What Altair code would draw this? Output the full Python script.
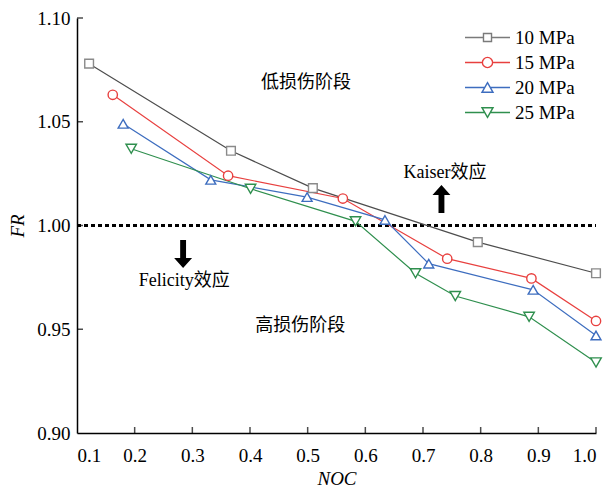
import altair as alt
import pandas as pd
import numpy as np

# ---- data ----
series_names = ["10 MPa", "15 MPa", "20 MPa", "25 MPa"]
x10 = [0.121, 0.367, 0.509, 0.795, 1.0]
y10 = [1.078, 1.036, 1.018, 0.992, 0.977]
x15 = [0.162, 0.362, 0.561, 0.742, 0.888, 1.0]
y15 = [1.063, 1.024, 1.013, 0.984, 0.9745, 0.954]
x20 = [0.180, 0.332, 0.499, 0.634, 0.710, 0.891, 1.0]
y20 = [1.049, 1.022, 1.0137, 1.0027, 0.9816, 0.969, 0.947]
x25 = [0.194, 0.401, 0.583, 0.687, 0.756, 0.884, 1.0]
y25 = [1.037, 1.0177, 1.002, 0.977, 0.966, 0.956, 0.934]

x_ticks = [0.1, 0.2, 0.3, 0.4, 0.5, 0.6, 0.7, 0.8, 0.9, 1.0]
y_ticks = [0.90, 0.95, 1.00, 1.05, 1.10]

ann_text = ["低损伤阶段", "高损伤阶段", "Kaiser效应", "Felicity效应"]
ann_x = [0.497, 0.487, 0.738, 0.286]
ann_y = [1.0687, 0.9516, 1.0254, 0.9733]

arrow_x = [0.732, 0.284]
arrow_y = [1.0128, 0.9863]
arrow_dir = ["up", "down"]

line_colors = ["#4d4d4d", "#e8403f", "#3d6dbf", "#2f8f4e"]
marker_colors = ["#8a8a8a", "#e8403f", "#3d6dbf", "#2f8f4e"]
legend_colors = ["#7a7a7a", "#e8403f", "#3d6dbf", "#2f8f4e"]
shapes = ["square", "circle", "triangle-up", "triangle-down"]
marker_sizes = [76, 110, 125, 125]

SERIF = "'Liberation Serif', 'Times New Roman', serif"
MIXED = "'Liberation Serif', 'Noto Sans CJK SC', serif"

# ---- tables ----
rows = []
for name, xs, ys in zip(series_names, [x10, x15, x20, x25], [y10, y15, y20, y25]):
    for xv, yv in zip(xs, ys):
        rows.append({"series": name, "NOC": xv, "FR": yv})
df = pd.DataFrame(rows)

ann = pd.DataFrame({"text": ann_text, "x": ann_x, "y": ann_y})
arr = pd.DataFrame({"x": arrow_x, "y": arrow_y, "dir": arrow_dir})
xt = pd.DataFrame({"v": x_ticks[1:]})
yt = pd.DataFrame({"v": y_ticks[1:]})
leg = pd.DataFrame({"series": series_names, "NOC": [np.nan] * 4, "FR": [np.nan] * 4})

xscale = alt.Scale(domain=[0.1, 1.0], nice=False, zero=False)
yscale = alt.Scale(domain=[0.9, 1.1], nice=False, zero=False)

X = alt.X("NOC:Q", scale=xscale,
          axis=alt.Axis(values=x_ticks, format=".1f", title="NOC", ticks=False,
                        labelFont=SERIF, titleFont=SERIF,
                        labelPadding=13, titlePadding=4))
Y = alt.Y("FR:Q", scale=yscale,
          axis=alt.Axis(values=y_ticks, format=".2f", title="FR", ticks=False,
                        labelFont=SERIF, titleFont=SERIF,
                        labelPadding=7, titlePadding=9))

lines = alt.Chart(df).mark_line(strokeWidth=1.2).encode(
    x=X, y=Y,
    color=alt.Color("series:N", scale=alt.Scale(domain=series_names, range=line_colors), legend=None),
    detail="series:N",
)

points = alt.Chart(df).mark_point(filled=False, fill="white", fillOpacity=1, opacity=1,
                                  strokeWidth=1.4).encode(
    x="NOC:Q", y="FR:Q",
    stroke=alt.Stroke("series:N", scale=alt.Scale(domain=series_names, range=marker_colors), legend=None),
    shape=alt.Shape("series:N", scale=alt.Scale(domain=series_names, range=shapes), legend=None),
    size=alt.Size("series:O", scale=alt.Scale(domain=series_names, range=marker_sizes), legend=None),
)

# legend symbols: marker with line segments on both sides
leg_paths = [
    "M-3.75,0H-0.67M0.67,0H3.75M-0.67,-0.67H0.67V0.67H-0.67Z",
    "M-3.75,0H-0.85M0.85,0H3.75M-0.85,0A0.85,0.85 0 1,0 0.85,0A0.85,0.85 0 1,0 -0.85,0Z",
    "M-3.75,0H-0.46M0.46,0H3.75M0,-0.8L0.92,0.8L-0.92,0.8Z",
    "M-3.75,0H-0.46M0.46,0H3.75M0,0.8L0.92,-0.8L-0.92,-0.8Z",
]
legend_cfg = dict(title=None, orient="none", legendX=401, legendY=10,
                  symbolSize=144, symbolStrokeWidth=1.4,
                  labelFont=SERIF, labelFontSize=19,
                  labelColor="black", labelOffset=18, rowPadding=5, padding=0)
legend_layer = alt.Chart(leg).mark_point(filled=False, opacity=1, strokeWidth=1.4).encode(
    x="NOC:Q", y="FR:Q",
    color=alt.Color("series:N", scale=alt.Scale(domain=series_names, range=legend_colors),
                    legend=alt.Legend(**legend_cfg)),
    shape=alt.Shape("series:N", scale=alt.Scale(domain=series_names, range=leg_paths),
                    legend=alt.Legend(**legend_cfg)),
)

ref = alt.Chart(df).mark_rule(color="black", strokeWidth=1.5, strokeDash=[4, 3]).encode(
    y=alt.datum(1.0), x=alt.datum(0.1), x2=alt.datum(1.0)
)

xticks = alt.Chart(xt).mark_tick(orient="vertical", color="black", size=6, thickness=1.5,
                                 yOffset=-3).encode(x=alt.X("v:Q"), y=alt.datum(0.9))
yticks = alt.Chart(yt).mark_tick(orient="horizontal", color="black", size=6, thickness=1.5,
                                 xOffset=3).encode(y=alt.Y("v:Q"), x=alt.datum(0.1))

texts = alt.Chart(ann).mark_text(font=MIXED, fontSize=18, color="black").encode(
    x="x:Q", y="y:Q", text="text:N")

arrow_shape = alt.Scale(domain=["up", "down"],
                        range=["M-0.21,1H0.21V-0.29H0.64L0,-1L-0.64,-0.29H-0.21Z",
                               "M-0.21,-1H0.21V0.29H0.64L0,1L-0.64,0.29H-0.21Z"])
arrows = alt.Chart(arr).mark_point(filled=True, color="black", opacity=1, size=784).encode(
    x="x:Q", y="y:Q", shape=alt.Shape("dir:N", scale=arrow_shape, legend=None))

chart = alt.layer(
    ref, lines, points, xticks, yticks, texts, arrows, legend_layer
).resolve_scale(
    color="independent", shape="independent", stroke="independent", size="independent"
).properties(
    width=519, height=415,
    autosize=alt.AutoSizeParams(type="none"),
    padding={"left": 77, "top": 18, "right": 17, "bottom": 55},
    background="white",
).configure(font=SERIF).configure_view(stroke=None).configure_axis(
    domainColor="black", domainWidth=1.5, grid=False,
    labelFont=SERIF, labelFontSize=19, labelColor="black",
    titleFont=SERIF, titleFontSize=19, titleFontStyle="italic",
    titleFontWeight="normal", titleColor="black",
)

chart.save("out.html", embed_options={"renderer": "svg", "actions": False})
